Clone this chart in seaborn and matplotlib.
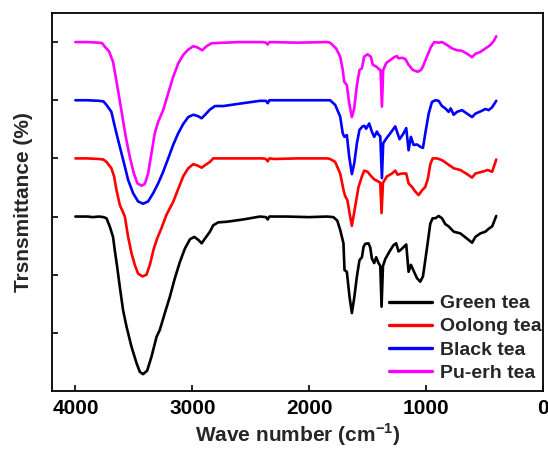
import numpy as np
import pandas as pd
import matplotlib
matplotlib.use("Agg")
import matplotlib.pyplot as plt
import seaborn as sns

# ---- data (arbitrary stacked transmittance units) ----
series_names = ["Green tea", "Oolong tea", "Black tea", "Pu-erh tea"]
series_colors = ["#000000", "#ff0000", "#0000ff", "#ff00ff"]

green_wn = [4000, 3900, 3850, 3800, 3760, 3734, 3706, 3678, 3663, 3643, 3620, 3592, 3563, 3520, 3477, 3449,
            3421, 3386, 3349, 3306, 3278, 3235, 3192, 3149, 3106, 3063, 3020, 2983, 2949, 2920, 2892, 2849,
            2821, 2778, 2706, 2564, 2421, 2370, 2355, 2340, 2200, 2000, 1850, 1793, 1760, 1735, 1707, 1698,
            1678, 1655, 1635, 1615, 1592, 1570, 1549, 1535, 1521, 1493, 1478, 1464, 1444, 1427, 1407, 1392,
            1381, 1369, 1349, 1307, 1278, 1256, 1236, 1221, 1190, 1170, 1150, 1130, 1110, 1078, 1050, 1027,
            1007, 987, 964, 944, 921, 893, 864, 836, 807, 764, 707, 650, 607, 578, 536, 493, 465, 435, 400]
green_t = [3.00, 3.00, 2.99, 3.00, 2.99, 2.97, 2.83, 2.65, 2.42, 2.14, 1.79, 1.39, 1.11, 0.76, 0.48, 0.33,
           0.29, 0.35, 0.59, 0.93, 1.05, 1.34, 1.62, 1.94, 2.22, 2.45, 2.61, 2.65, 2.60, 2.54, 2.62, 2.74,
           2.85, 2.90, 2.91, 2.95, 3.00, 2.99, 2.95, 3.00, 3.00, 2.99, 3.00, 2.99, 2.93, 2.77, 2.54, 2.08,
           2.05, 1.62, 1.34, 1.60, 1.97, 2.25, 2.30, 2.48, 2.53, 2.54, 2.47, 2.28, 2.20, 2.30, 2.20, 2.15,
           1.45, 2.15, 2.27, 2.42, 2.51, 2.54, 2.40, 2.42, 2.48, 2.52, 2.05, 2.17, 2.08, 1.94, 1.88, 1.97,
           2.25, 2.54, 2.88, 2.97, 2.97, 3.01, 2.97, 2.87, 2.83, 2.74, 2.71, 2.62, 2.55, 2.65, 2.71, 2.74,
           2.79, 2.83, 3.01]

oolong_wn = [4000, 3900, 3800, 3760, 3734, 3692, 3669, 3649, 3620, 3577, 3549, 3520, 3492, 3464, 3426, 3392,
             3363, 3329, 3301, 3264, 3221, 3164, 3135, 3078, 3035, 2992, 2958, 2920, 2886, 2849, 2821, 2600,
             2400, 2370, 2355, 2340, 2300, 2100, 1850, 1821, 1778, 1735, 1707, 1692, 1673, 1655, 1635, 1607,
             1578, 1549, 1530, 1501, 1473, 1444, 1407, 1392, 1381, 1369, 1335, 1292, 1264, 1244, 1207, 1170,
             1150, 1121, 1093, 1064, 1035, 1007, 985, 964, 944, 907, 864, 821, 764, 707, 650, 607, 578, 521,
             473, 435, 400]
oolong_t = [4.00, 4.00, 3.99, 3.98, 3.94, 3.83, 3.69, 3.46, 3.20, 3.00, 2.65, 2.37, 2.17, 2.02, 1.97, 2.00,
            2.17, 2.45, 2.62, 2.80, 3.03, 3.25, 3.40, 3.69, 3.83, 3.90, 3.88, 3.84, 3.89, 3.94, 4.00, 4.00,
            4.00, 3.99, 3.95, 4.00, 3.99, 4.00, 4.00, 3.99, 3.94, 3.74, 3.46, 3.35, 3.28, 3.06, 2.84, 3.17,
            3.51, 3.69, 3.79, 3.77, 3.70, 3.64, 3.60, 3.58, 3.06, 3.58, 3.69, 3.74, 3.79, 3.72, 3.74, 3.74,
            3.57, 3.51, 3.43, 3.37, 3.45, 3.51, 3.65, 3.90, 4.00, 4.00, 3.97, 3.91, 3.83, 3.80, 3.73, 3.67,
            3.74, 3.77, 3.80, 3.77, 3.98]

black_wn = [4000, 3900, 3800, 3760, 3734, 3692, 3663, 3635, 3606, 3577, 3549, 3506, 3464, 3421, 3378, 3335,
            3292, 3249, 3206, 3164, 3121, 3078, 3035, 2992, 2955, 2920, 2886, 2849, 2806, 2735, 2564, 2421,
            2370, 2355, 2340, 2100, 1850, 1821, 1778, 1735, 1713, 1698, 1678, 1658, 1635, 1615, 1592, 1570,
            1544, 1527, 1513, 1487, 1464, 1444, 1421, 1404, 1392, 1378, 1367, 1341, 1307, 1264, 1244, 1227,
            1193, 1170, 1150, 1130, 1107, 1078, 1050, 1027, 1007, 978, 950, 921, 893, 864, 836, 807, 790,
            764, 736, 693, 650, 607, 578, 521, 493, 465, 435, 400]
black_t = [5.00, 5.00, 4.99, 4.98, 4.92, 4.80, 4.55, 4.32, 4.09, 3.86, 3.63, 3.40, 3.26, 3.22, 3.26, 3.40,
           3.57, 3.77, 4.00, 4.23, 4.43, 4.59, 4.71, 4.75, 4.73, 4.69, 4.76, 4.84, 4.90, 4.90, 4.95, 4.99,
           4.99, 4.95, 5.00, 5.00, 5.00, 5.00, 4.92, 4.72, 4.43, 4.37, 4.40, 4.03, 3.73, 3.91, 4.26, 4.49,
           4.55, 4.56, 4.51, 4.60, 4.46, 4.37, 4.46, 4.40, 4.38, 3.66, 4.26, 4.34, 4.43, 4.55, 4.43, 4.33,
           4.43, 4.52, 4.14, 4.37, 4.23, 4.24, 4.20, 4.18, 4.43, 4.77, 4.97, 5.00, 4.99, 4.90, 4.86, 4.80,
           4.86, 4.75, 4.80, 4.83, 4.77, 4.71, 4.77, 4.82, 4.85, 4.83, 4.88, 4.99]

puerh_wn = [4000, 3900, 3800, 3770, 3749, 3712, 3678, 3655, 3626, 3598, 3569, 3535, 3500, 3469, 3434, 3406,
            3378, 3349, 3321, 3292, 3249, 3206, 3164, 3121, 3078, 3035, 2992, 2958, 2915, 2878, 2835, 2600,
            2400, 2370, 2355, 2340, 2100, 1850, 1821, 1770, 1735, 1713, 1701, 1678, 1658, 1635, 1615, 1592,
            1570, 1549, 1530, 1501, 1473, 1456, 1427, 1401, 1390, 1378, 1367, 1341, 1307, 1273, 1250, 1236,
            1207, 1178, 1150, 1113, 1072, 1044, 1027, 993, 958, 930, 893, 864, 821, 778, 736, 693, 650, 607,
            578, 536, 493, 450, 421, 400]
puerh_t = [6.00, 6.00, 5.99, 5.98, 5.92, 5.84, 5.66, 5.40, 5.06, 4.72, 4.37, 4.03, 3.74, 3.57, 3.53, 3.56,
           3.74, 4.09, 4.43, 4.63, 4.83, 5.12, 5.40, 5.63, 5.78, 5.87, 5.93, 5.91, 5.86, 5.93, 5.98, 6.00,
           6.00, 5.99, 5.96, 6.00, 5.99, 6.00, 5.99, 5.89, 5.75, 5.52, 5.32, 5.26, 4.95, 4.71, 4.86, 5.26,
           5.52, 5.55, 5.75, 5.79, 5.75, 5.61, 5.58, 5.53, 5.52, 4.89, 5.52, 5.64, 5.69, 5.74, 5.76, 5.72,
           5.73, 5.71, 5.61, 5.52, 5.49, 5.52, 5.58, 5.75, 5.92, 6.00, 5.99, 6.00, 5.95, 5.89, 5.86, 5.85,
           5.80, 5.74, 5.80, 5.83, 5.89, 5.95, 6.02, 6.10]

x_ticks = [4000, 3000, 2000, 1000, 0]
y_ticks = [1, 2, 3, 4, 5, 6]

# ---- build long table ----
frames = []
for name, wn, t in zip(series_names,
                       [green_wn, oolong_wn, black_wn, puerh_wn],
                       [green_t, oolong_t, black_t, puerh_t]):
    frames.append(pd.DataFrame({"wn": wn, "T": t, "sample": name}))
df = pd.concat(frames, ignore_index=True)

sns.set_theme(style="ticks")
plt.rcParams["font.family"] = ["Liberation Sans", "DejaVu Sans"]
plt.rcParams["font.weight"] = "bold"
plt.rcParams["mathtext.fontset"] = "custom"
plt.rcParams["mathtext.bf"] = "Liberation Sans:bold"
plt.rcParams["mathtext.rm"] = "Liberation Sans:bold"

fig = plt.figure(figsize=(5.48, 4.5), dpi=100)
ax = fig.add_axes([0.0949, 0.1311, 0.896, 0.840])

sns.lineplot(data=df, x="wn", y="T", hue="sample", hue_order=series_names,
             palette=series_colors, sort=False, estimator=None, linewidth=1.9, ax=ax)

ax.set_xlim(4200, 0)
ax.set_ylim(0, 6.5)
ax.set_xticks(x_ticks)
ax.set_xticklabels([str(v) for v in x_ticks], fontsize=15, fontweight="bold")
ax.set_yticks(y_ticks)
ax.set_yticklabels([])
ax.tick_params(axis="both", direction="in", length=4, width=1.2, colors="black", pad=6)
for s in ax.spines.values():
    s.set_linewidth(1.3)
    s.set_color("black")

ax.set_xlabel(r"Wave number (cm$^{\mathbf{-1}}$)", fontsize=15, fontweight="bold", labelpad=2)
ax.set_ylabel("Trsnsmittance (%)", fontsize=15, fontweight="bold", labelpad=8)

leg = ax.legend(loc="lower right", bbox_to_anchor=(1.02, -0.006), frameon=False,
                prop={"size": 14, "weight": "bold"}, handlelength=2.2, handletextpad=0.4,
                labelspacing=0.28, borderaxespad=0.2)
for line in leg.get_lines():
    line.set_linewidth(2.4)

fig.savefig("out.png", dpi=100)
